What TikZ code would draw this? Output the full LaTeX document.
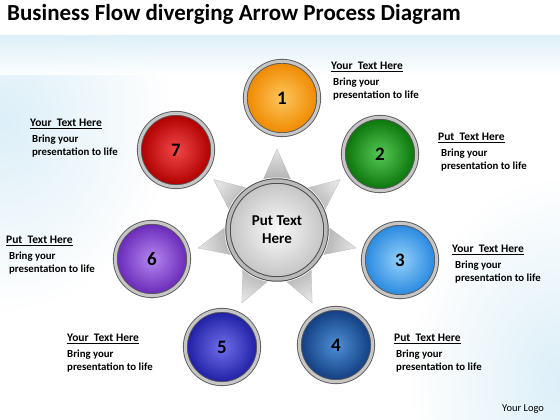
\documentclass[tikz,border=0pt]{standalone}
\usepackage{fontspec}
\setmainfont{Carlito}
\usetikzlibrary{calc,fadings}
\definecolor{in1}{HTML}{FDC65E}\definecolor{out1}{HTML}{F08A00}
\definecolor{in2}{HTML}{55C855}\definecolor{out2}{HTML}{0C760C}
\definecolor{in3}{HTML}{95D0FB}\definecolor{out3}{HTML}{2A8AE0}
\definecolor{in4}{HTML}{4F8FD6}\definecolor{out4}{HTML}{123F82}
\definecolor{in5}{HTML}{7070EA}\definecolor{out5}{HTML}{2020A6}
\definecolor{in6}{HTML}{B587F2}\definecolor{out6}{HTML}{6A2AB8}
\definecolor{in7}{HTML}{F24848}\definecolor{out7}{HTML}{B00000}
\definecolor{bgblue}{HTML}{DCEFF8}
\tikzfading[name=softglow, inner color=transparent!0, outer color=transparent!100]
\begin{document}
\begin{tikzpicture}[x=1pt,y=1pt,
  ball/.style={circle, minimum size=70pt, inner sep=0pt, shading=radial,
    font=\fontsize{19}{22}\selectfont\bfseries, text=black},
  ring/.style={draw=black!65, line width=0.9pt, double=gray!45!white, double distance=3pt},
  lbltitle/.style={anchor=base west, inner sep=0pt, font=\fontsize{11.5}{14}\selectfont\bfseries},
  lblbody/.style={anchor=base west, inner sep=0pt, font=\fontsize{10.8}{14}\selectfont\bfseries},
  spikeshade/.style={left color=gray!22, right color=gray!62}
]
\useasboundingbox (0,0) rectangle (560,420);
% background
\fill[white] (0,0) rectangle (560,420);
\begin{scope}
\clip (0,0) rectangle (560,384);
\fill[bgblue, path fading=softglow] (0,300) ellipse[x radius=170pt, y radius=190pt];
\fill[bgblue, path fading=softglow] (560,40) ellipse[x radius=150pt, y radius=200pt];
\shade[top color=bgblue, bottom color=white, opacity=0.9] (0,345) rectangle (560,384);
\end{scope}
% title
\node[anchor=base west, inner sep=0pt, font=\fontsize{23}{27}\selectfont\bfseries] (title) at (7,399.3) {Business Flow diverging Arrow Process Diagram};
% star spikes
\coordinate (C) at (277,190);
\foreach \a in {90, 38.57, -12.86, -64.29, -115.71, -167.14, 141.43} {
  \pgfmathsetmacro{\sa}{\a-90}
  \shade[spikeshade, shading angle=\sa, draw=gray!55, line width=0.3pt]
    ($(C)+(\a+16.5:51pt)$) -- ($(C)+(\a:81pt)$) -- ($(C)+(\a-16.5:51pt)$) -- cycle;
}
% center disc
\fill[white] (C) circle[radius=52.5pt];
\node[circle, minimum size=94pt, inner sep=0pt, shading=radial, inner color=gray!4, outer color=gray!45,
  align=center, font=\fontsize{15}{18}\selectfont\bfseries] (ctr) at (C) {Put Text\\Here};
\draw[draw=black!70, line width=1pt, double=gray!55!white, double distance=3.5pt] (ctr.center) circle[radius=49pt];
% balls
\foreach \i/\x/\y in {1/282/322, 2/380/266, 3/400/160, 4/336/75, 5/222/73, 6/152/161, 7/176/270} {
  \node[ball, inner color=in\i, outer color=out\i] (c\i) at (\x,\y) {\i};
  \draw[ring] (c\i.center) circle[radius=36.7pt];
}
% labels
\foreach \n/\t/\tx/\bx/\ty in {1/Your/331/333/350.5, 2/Put/438/441/279.5, 3/Your/452/455/167.5,
   4/Put/394/396/78.5, 5/Your/67/67/78.5, 6/Put/6/9/176.5, 7/Your/30/32/293.5} {
  \node[lbltitle] (t\n) at (\tx,\ty) {\underline{\t\ \ Text Here}};
  \node[lblbody] (ba\n) at (\bx,\ty-16) {Bring your};
  \node[lblbody] (bb\n) at (\bx,\ty-29.5) {presentation to life};
}
\node[anchor=base west, inner sep=0pt, font=\fontsize{10.5}{12}\selectfont] (logo) at (502,8) {Your Logo};
\end{tikzpicture}
\end{document}
